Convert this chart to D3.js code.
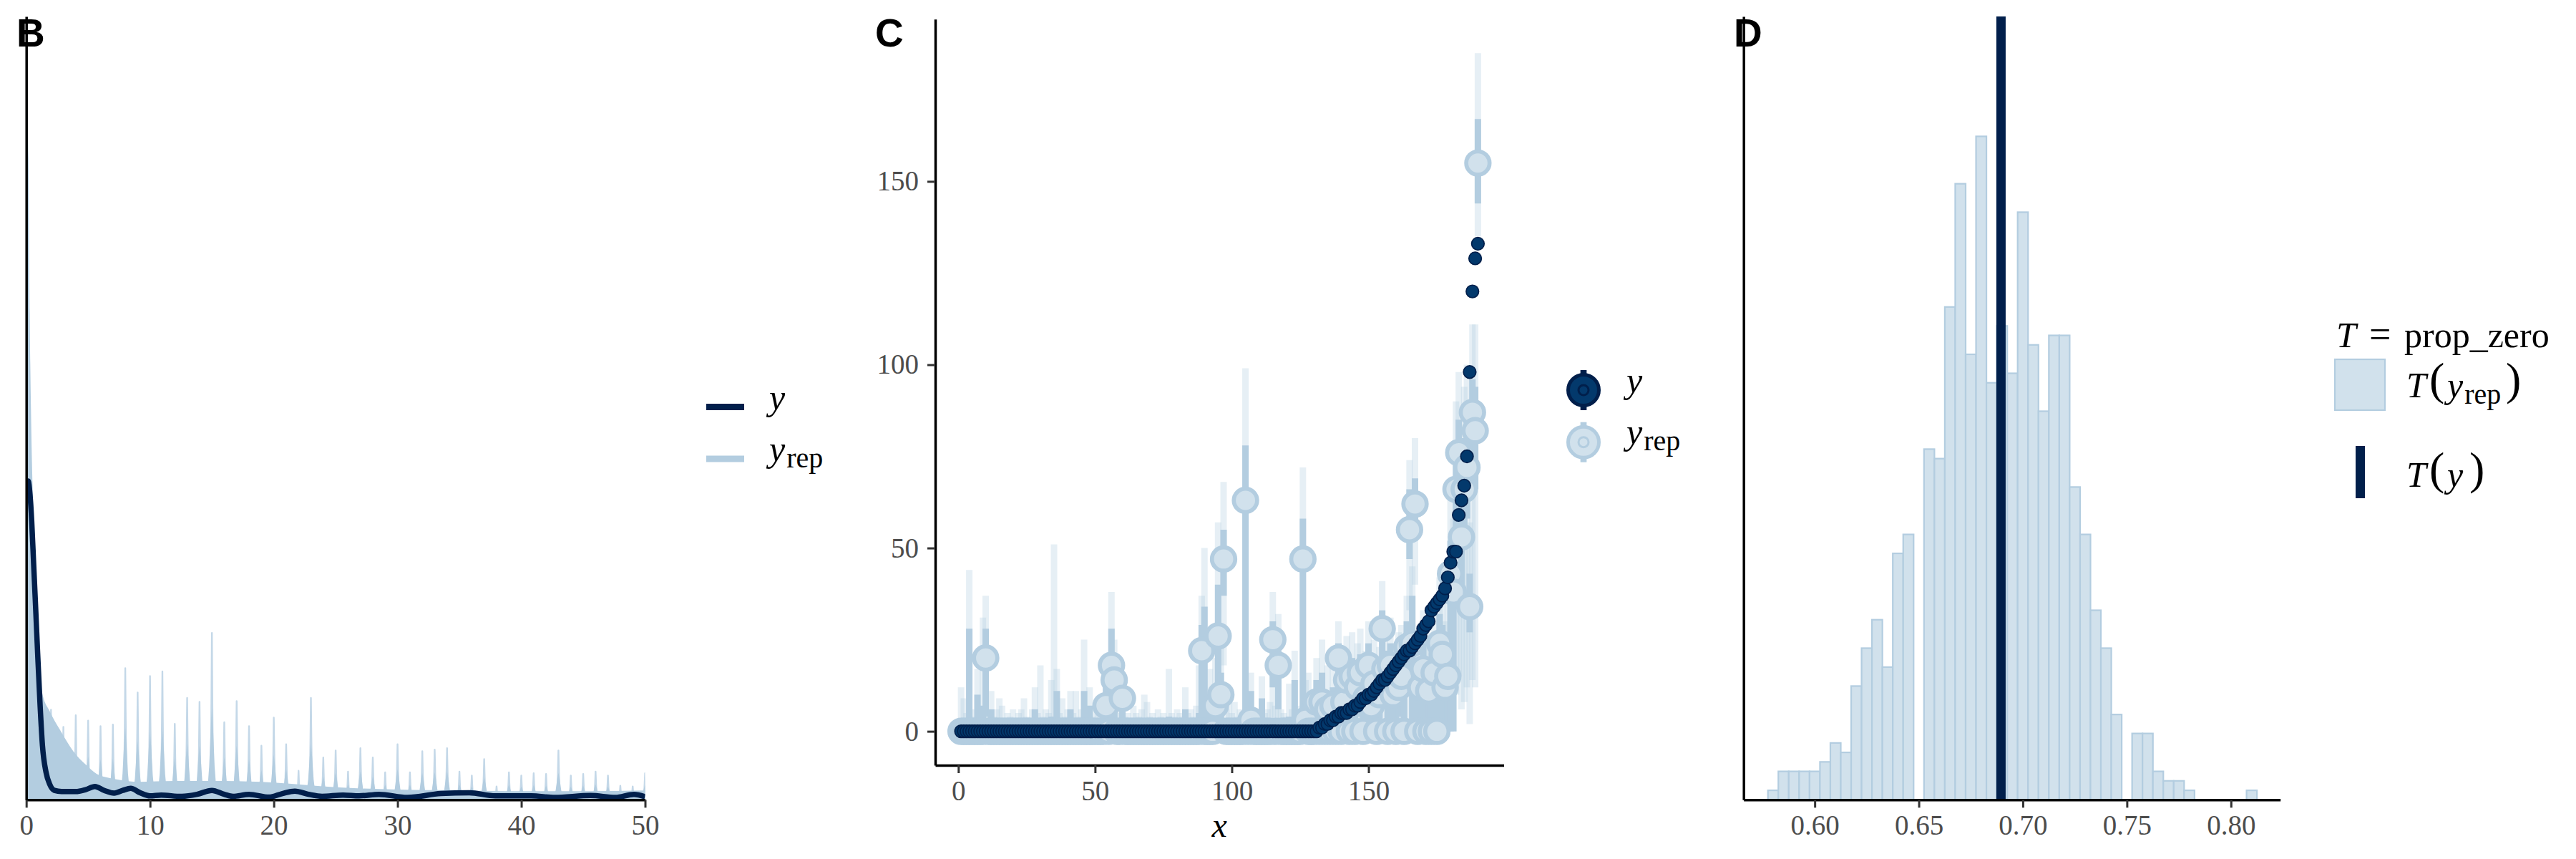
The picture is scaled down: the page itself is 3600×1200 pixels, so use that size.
<!DOCTYPE html>
<html>
<head>
<meta charset="utf-8">
<script src="https://cdn.jsdelivr.net/npm/d3@7"></script>
<style>
  body { margin: 0; background: #fff; }
</style>
</head>
<body>
<script>
// bayesplot "blue" colour scheme
const light = "#d1e1ec", lightHi = "#b3cde0", dark = "#03396c", darkHi = "#011f4b";
const serif = '"Liberation Serif", "Times New Roman", serif';
const sans = '"Liberation Sans", Arial, sans-serif';

// ---------- panel B : density overlay (arbitrary density units, top of panel = 1) ----------
const densTicks = [0, 10, 20, 30, 40, 50];
const densYx = [0, 0.15, 0.3, 0.44, 0.6, 0.73, 0.92, 1.12, 1.31, 1.6, 1.89, 2.27, 2.85, 4, 4.8, 5.55, 6.3, 7.1, 7.8, 8.44, 9.2, 10, 10.9, 12.5, 13.8, 15, 16, 16.7, 18, 19.6, 20.7, 21.7, 22.8, 23.9, 25.6, 26.9, 28.5, 30.8, 33.5, 35.8, 37.9, 40.8, 42.7, 45.6, 47.6, 49.1, 50];
const densYv = [0.400, 0.407, 0.39, 0.356, 0.30, 0.255, 0.187, 0.12, 0.069, 0.035, 0.02, 0.012, 0.0105, 0.0105, 0.013, 0.017, 0.012, 0.0085, 0.012, 0.0146, 0.009, 0.005, 0.006, 0.0044, 0.007, 0.012, 0.007, 0.0044, 0.007, 0.0034, 0.008, 0.011, 0.007, 0.0044, 0.006, 0.005, 0.007, 0.003, 0.008, 0.009, 0.005, 0.005, 0.003, 0.0055, 0.003, 0.007, 0.004];
// lower envelope of the replicated densities
const repFloorX = [0, 0.08, 0.18, 0.28, 0.38, 0.55, 0.75, 1.0, 1.3, 1.9, 2.85, 3.8, 4.8, 5.7, 6.7, 7.7, 9, 12, 16, 20, 25, 30, 35, 40, 45, 50];
const repFloorV = [0.96, 0.93, 0.82, 0.62, 0.5, 0.38, 0.28, 0.19, 0.136, 0.113, 0.086, 0.062, 0.045, 0.033, 0.028, 0.025, 0.023, 0.024, 0.024, 0.022, 0.016, 0.013, 0.012, 0.011, 0.011, 0.012];
// peaks of the replicated densities at each integer count
const repSpikeX = [1, 2, 3, 4, 5, 6, 7, 8, 9, 10, 11, 12, 13, 14, 15, 16, 17, 18, 19, 20, 21, 22, 23, 24, 25, 26, 27, 28, 29, 30, 31, 32, 33, 34, 35, 36, 37, 38, 39, 40, 41, 42, 43, 44, 45, 46, 47, 48, 49, 50];
const repSpikeH = [0.14, 0.115, 0.093, 0.108, 0.101, 0.094, 0.096, 0.168, 0.137, 0.158, 0.164, 0.097, 0.130, 0.125, 0.213, 0.099, 0.126, 0.094, 0.069, 0.105, 0.071, 0.037, 0.130, 0.054, 0.063, 0.036, 0.066, 0.054, 0.035, 0.071, 0.035, 0.062, 0.064, 0.066, 0.036, 0.031, 0.052, 0.017, 0.035, 0.031, 0.034, 0.033, 0.063, 0.031, 0.033, 0.036, 0.031, 0.018, 0.017, 0.034];

// ---------- panel C : intervals, observations sorted by y ----------
const intTicksX = [0, 50, 100, 150];
const intTicksY = [0, 50, 100, 150];
const yObs = [
  0, 0, 0, 0, 0, 0, 0, 0, 0, 0,
  0, 0, 0, 0, 0, 0, 0, 0, 0, 0,
  0, 0, 0, 0, 0, 0, 0, 0, 0, 0,
  0, 0, 0, 0, 0, 0, 0, 0, 0, 0,
  0, 0, 0, 0, 0, 0, 0, 0, 0, 0,
  0, 0, 0, 0, 0, 0, 0, 0, 0, 0,
  0, 0, 0, 0, 0, 0, 0, 0, 0, 0,
  0, 0, 0, 0, 0, 0, 0, 0, 0, 0,
  0, 0, 0, 0, 0, 0, 0, 0, 0, 0,
  0, 0, 0, 0, 0, 0, 0, 0, 0, 0,
  0, 0, 0, 0, 0, 0, 0, 0, 0, 0,
  0, 0, 0, 0, 0, 0, 0, 0, 0, 0,
  0, 0, 0, 0, 0, 0, 0, 0, 0, 0,
  0, 1, 1, 2, 2, 3, 3, 4, 4, 5,
  5, 5, 6, 6, 7, 7, 8, 9, 9, 10,
  10, 11, 12, 13, 14, 14, 15, 16, 17, 18,
  19, 20, 21, 22, 22, 23, 24, 25, 26, 28,
  29, 30, 33, 34, 35, 36, 37, 39, 42, 46,
  49, 49, 59, 63, 67, 75, 98, 120, 129, 133
];
const repMed = [
  0, 0, 0, 0, 0, 0, 0, 0, 0, 20,
  0, 0, 0, 0, 0, 0, 0, 0, 0, 0,
  0, 0, 0, 0, 0, 0, 0, 0, 0, 0,
  0, 0, 0, 0, 0, 0, 0, 0, 0, 0,
  0, 0, 0, 0, 0, 0, 0, 0, 0, 0,
  0, 0, 0, 7, 0, 18, 14, 0, 0, 9,
  0, 0, 0, 0, 0, 0, 0, 0, 0, 0,
  0, 0, 0, 0, 0, 0, 0, 0, 0, 0,
  0, 0, 0, 0, 0, 0, 0, 0, 22, 0,
  0, 0, 0, 7, 26, 10, 47, 0, 0, 0,
  0, 0, 0, 0, 63, 0, 3, 0, 0, 0,
  0, 0, 0, 0, 25, 0, 18, 0, 0, 0,
  0, 0, 0, 0, 0, 47, 3, 0, 0, 0,
  8, 0, 8, 0, 6, 0, 7, 0, 20, 0,
  8, 14, 0, 15, 0, 12, 16, 0, 9, 18,
  7, 13, 0, 10, 28, 17, 0, 18, 10, 0,
  12, 15, 0, 23, 55, 24, 62, 0, 12, 17,
  0, 11, 0, 16, 0, 24, 21, 12, 15, 43,
  38, 66, 76, 53, 66, 72, 34, 87, 82, 155
];
const repLo50 = [
  0, 0, 0, 0, 0, 0, 0, 0, 0, 4,
  0, 0, 0, 0, 0, 0, 0, 0, 0, 0,
  0, 0, 0, 0, 0, 0, 0, 0, 0, 0,
  0, 0, 0, 0, 0, 0, 0, 0, 0, 0,
  0, 0, 0, 0, 0, 0, 0, 0, 0, 0,
  0, 0, 0, 1, 0, 5, 3, 0, 0, 2,
  0, 0, 0, 0, 0, 0, 0, 0, 0, 0,
  0, 0, 0, 0, 0, 0, 0, 0, 0, 0,
  0, 0, 0, 0, 0, 0, 0, 0, 0, 0,
  0, 0, 0, 0, 9, 3, 37, 0, 0, 0,
  0, 0, 0, 0, 0, 0, 0, 0, 0, 0,
  0, 0, 0, 0, 12, 0, 6, 0, 0, 0,
  0, 0, 0, 0, 0, 0, 0, 0, 0, 0,
  2, 0, 2, 0, 1, 0, 2, 0, 9, 0,
  2, 5, 0, 6, 0, 4, 7, 0, 3, 8,
  2, 5, 0, 3, 17, 8, 0, 9, 3, 0,
  4, 6, 0, 12, 47, 0, 52, 0, 0, 0,
  0, 0, 0, 0, 0, 0, 0, 0, 0, 0,
  0, 52, 60, 40, 53, 58, 27, 70, 66, 144
];
const repHi50 = [
  3, 0, 0, 28, 0, 0, 10, 0, 7, 28,
  0, 6, 0, 0, 2, 0, 0, 0, 0, 0,
  0, 0, 0, 2, 0, 0, 0, 6, 0, 3,
  0, 0, 0, 4, 4, 11, 0, 2, 0, 0,
  6, 0, 3, 0, 0, 11, 0, 7, 0, 0,
  0, 0, 2, 12, 0, 28, 20, 0, 2, 12,
  0, 0, 0, 2, 0, 0, 0, 3, 2, 0,
  0, 0, 0, 0, 0, 0, 4, 0, 0, 0,
  0, 0, 6, 0, 0, 0, 2, 5, 29, 34,
  0, 4, 2, 12, 40, 16, 55, 0, 3, 0,
  2, 0, 0, 0, 78, 0, 11, 0, 0, 0,
  9, 0, 0, 2, 30, 0, 22, 0, 0, 0,
  4, 0, 14, 0, 0, 58, 8, 10, 3, 0,
  14, 4, 16, 3, 10, 4, 12, 5, 24, 6,
  13, 18, 6, 20, 8, 17, 21, 7, 14, 24,
  12, 18, 9, 15, 33, 22, 8, 24, 16, 9,
  18, 21, 10, 30, 66, 37, 69, 12, 19, 24,
  11, 18, 13, 24, 12, 32, 29, 20, 24, 52,
  47, 78, 85, 64, 80, 86, 43, 96, 94, 167
];
const repLo90 = [
  0, 0, 0, 0, 0, 0, 0, 0, 0, 0,
  0, 0, 0, 0, 0, 0, 0, 0, 0, 0,
  0, 0, 0, 0, 0, 0, 0, 0, 0, 0,
  0, 0, 0, 0, 0, 0, 0, 0, 0, 0,
  0, 0, 0, 0, 0, 0, 0, 0, 0, 0,
  0, 0, 0, 0, 0, 0, 0, 0, 0, 0,
  0, 0, 0, 0, 0, 0, 0, 0, 0, 0,
  0, 0, 0, 0, 0, 0, 0, 0, 0, 0,
  0, 0, 0, 0, 0, 0, 0, 0, 0, 0,
  0, 0, 0, 0, 0, 0, 18, 0, 0, 0,
  0, 0, 0, 0, 0, 0, 0, 0, 0, 0,
  0, 0, 0, 0, 0, 0, 0, 0, 0, 0,
  0, 0, 0, 0, 0, 0, 0, 0, 0, 0,
  0, 0, 0, 0, 0, 0, 0, 0, 2, 0,
  0, 0, 0, 1, 0, 0, 1, 0, 0, 2,
  0, 0, 0, 0, 7, 1, 0, 2, 0, 0,
  0, 1, 0, 3, 33, 0, 40, 0, 0, 0,
  0, 0, 0, 0, 0, 0, 0, 0, 0, 0,
  0, 10, 15, 6, 8, 12, 2, 14, 12, 135
];
const repHi90 = [
  12, 9, 5, 44, 4, 6, 17, 3, 31, 37,
  5, 11, 4, 6, 9, 7, 3, 5, 4, 6,
  3, 5, 6, 9, 4, 3, 6, 12, 5, 18,
  4, 6, 5, 14, 51, 17, 5, 9, 4, 6,
  11, 5, 11, 4, 6, 25, 5, 12, 4, 6,
  5, 3, 8, 16, 6, 38, 25, 5, 6, 16,
  4, 5, 3, 7, 5, 4, 6, 10, 8, 4,
  5, 3, 6, 4, 5, 3, 17, 5, 4, 6,
  5, 4, 12, 5, 6, 4, 7, 18, 37, 50,
  6, 17, 8, 20, 57, 25, 68, 6, 10, 5,
  8, 4, 6, 5, 99, 6, 16, 5, 4, 6,
  15, 5, 6, 8, 38, 7, 32, 6, 5, 4,
  13, 6, 22, 5, 7, 72, 14, 16, 9, 6,
  20, 10, 25, 8, 18, 9, 20, 12, 30, 14,
  21, 26, 13, 27, 16, 24, 28, 15, 22, 30,
  19, 25, 17, 23, 41, 29, 18, 31, 24, 19,
  27, 29, 21, 37, 74, 45, 80, 24, 28, 33,
  23, 27, 25, 34, 26, 42, 38, 30, 35, 64,
  58, 90, 98, 76, 94, 100, 57, 111, 111, 185
];

// ---------- panel D : histogram of prop_zero over replications ----------
const statTicks = [0.60, 0.65, 0.70, 0.75, 0.80];
const binMid = [0.580, 0.585, 0.590, 0.595, 0.600, 0.605, 0.610, 0.615, 0.620, 0.625, 0.630, 0.635, 0.640, 0.645, 0.650, 0.655, 0.660, 0.665, 0.670, 0.675, 0.680, 0.685, 0.690, 0.695, 0.700, 0.705, 0.710, 0.715, 0.720, 0.725, 0.730, 0.735, 0.740, 0.745, 0.750, 0.755, 0.760, 0.765, 0.770, 0.775, 0.780, 0.785, 0.790, 0.795, 0.800, 0.805, 0.810];
const binCount = [1, 3, 3, 3, 3, 4, 6, 5, 12, 16, 19, 14, 26, 28, 0, 37, 36, 52, 65, 47, 70, 44, 50, 45, 62, 48, 41, 49, 49, 33, 28, 20, 16, 9, 0, 7, 7, 3, 2, 2, 1, 0, 0, 0, 0, 0, 1];
const binWidth = 0.005;
const statObs = 0.6895;

// ---------------------------------------------------------------------------
const svg = d3.select("body").append("svg")
  .attr("width", 3600)
  .attr("height", 1200);

function styleAxis(g) {
  g.select(".domain").attr("stroke", "#000").attr("stroke-width", 3.5);
  g.selectAll(".tick line").attr("stroke", "#333").attr("stroke-width", 3);
  g.selectAll(".tick text")
    .attr("fill", "#4d4d4d")
    .attr("font-size", 39)
    .attr("font-family", serif);
}

function panelLabel(txt, x) {
  svg.append("text")
    .attr("x", x).attr("y", 65)
    .attr("font-family", sans)
    .attr("font-weight", "bold")
    .attr("font-size", 55)
    .text(txt);
}

// math-ish label: italic base letter with optional roman subscript
function mathLabel(g, x, y, base, sub) {
  const t = g.append("text")
    .attr("x", x).attr("y", y)
    .attr("font-family", serif)
    .attr("font-size", 50);
  t.append("tspan").attr("font-style", "italic").text(base);
  if (sub) t.append("tspan").attr("font-size", 40).attr("dx", 2).attr("dy", 9).text(sub);
  return t;
}

function pad([a, b]) {
  const d = (b - a) * 0.05;
  return [a - d, b + d];
}

// ============================== B ==============================
const xB = d3.scaleLinear().domain([0, 50]).range([36.7, 901.5]);
const yB = d3.scaleLinear().domain([0, 1]).range([1117.3, 23]);

const gB = svg.append("g");
svg.append("clipPath").attr("id", "clipB")
  .append("rect")
  .attr("x", xB(0)).attr("y", yB(1))
  .attr("width", xB(50) - xB(0)).attr("height", yB(0) - yB(1));

const plotB = gB.append("g").attr("clip-path", "url(#clipB)");

// each peak: a thin pale tip over a wider, denser base (many overlaid curves)
const tipDx = [-0.3, -0.14, -0.07, -0.035, 0, 0.035, 0.07, 0.14, 0.3];
const tipFrac = [0, 0.12, 0.3, 0.62, 1, 0.62, 0.3, 0.12, 0];
const coreDx = [-0.42, -0.22, -0.1, 0, 0.1, 0.22, 0.42];
const coreFrac = [0, 0.2, 0.42, 0.55, 0.42, 0.2, 0];
const spikeLine = d3.line().x(p => xB(p[0])).y(p => yB(p[1]));
const spikes = repSpikeX.map((k, i) => ({ k: k, h: repSpikeH[i] }));

plotB.selectAll(".tip")
  .data(spikes)
  .join("path")
  .attr("class", "tip")
  .attr("d", d => spikeLine(tipDx.map((dx, j) => [d.k + dx, d.h * tipFrac[j]])) + "Z")
  .attr("fill", "#c4d8e8")
  .attr("stroke", "#c4d8e8")
  .attr("stroke-width", 2.4)
  .attr("stroke-linejoin", "round");

plotB.selectAll(".core")
  .data(spikes)
  .join("path")
  .attr("class", "core")
  .attr("d", d => spikeLine(coreDx.map((dx, j) => [d.k + dx, d.h * coreFrac[j]])) + "Z")
  .attr("fill", lightHi);

const floorArea = d3.area()
  .x((d, i) => xB(repFloorX[i]))
  .y0(yB(0))
  .y1(d => yB(d))
  .curve(d3.curveMonotoneX);

plotB.append("path")
  .attr("d", floorArea(repFloorV))
  .attr("fill", lightHi);

const densLine = d3.line()
  .x((d, i) => xB(densYx[i]))
  .y(d => yB(d))
  .curve(d3.curveMonotoneX);

plotB.append("path")
  .attr("d", densLine(densYv))
  .attr("fill", "none")
  .attr("stroke", darkHi)
  .attr("stroke-width", 7.5)
  .attr("stroke-linejoin", "round");

gB.append("g")
  .attr("transform", `translate(0,${yB(0)})`)
  .call(d3.axisBottom(xB).tickValues(densTicks).tickSize(11).tickSizeOuter(0).tickPadding(10))
  .call(styleAxis);

gB.append("g")
  .attr("transform", `translate(${xB(0)},0)`)
  .call(d3.axisLeft(yB).tickValues([]).tickSizeOuter(0))
  .call(styleAxis);

// legend B
const legB = svg.append("g");
legB.append("line").attr("x1", 987).attr("x2", 1040).attr("y1", 568.5).attr("y2", 568.5)
  .attr("stroke", darkHi).attr("stroke-width", 9);
legB.append("line").attr("x1", 987).attr("x2", 1040).attr("y1", 641).attr("y2", 641)
  .attr("stroke", lightHi).attr("stroke-width", 9);
mathLabel(legB, 1075, 572, "y");
mathLabel(legB, 1075, 644, "y", "rep");

panelLabel("B", 23);

// ============================== C ==============================
const idx = yObs.map((d, i) => i + 1);
const xC = d3.scaleLinear().domain(pad([1, idx.length])).range([1307, 2101.5]);
const yC = d3.scaleLinear().domain(pad([0, d3.max(repHi90)])).range([1069, 26.8]);

const gC = svg.append("g");

// outer (90%) intervals
gC.selectAll(".outer")
  .data(idx)
  .join("line")
  .attr("class", "outer")
  .attr("x1", d => xC(d)).attr("x2", d => xC(d))
  .attr("y1", (d, i) => yC(repLo90[i]))
  .attr("y2", (d, i) => yC(repHi90[i]))
  .attr("stroke", lightHi)
  .attr("stroke-opacity", 0.33)
  .attr("stroke-width", 9);

// inner (50%) intervals
gC.selectAll(".inner")
  .data(idx)
  .join("line")
  .attr("class", "inner")
  .attr("x1", d => xC(d)).attr("x2", d => xC(d))
  .attr("y1", (d, i) => yC(repLo50[i]))
  .attr("y2", (d, i) => yC(repHi50[i]))
  .attr("stroke", lightHi)
  .attr("stroke-width", 9);

// medians of y_rep
gC.selectAll(".med")
  .data(idx)
  .join("circle")
  .attr("class", "med")
  .attr("cx", d => xC(d))
  .attr("cy", (d, i) => yC(repMed[i]))
  .attr("r", 16.3)
  .attr("fill", light)
  .attr("stroke", lightHi)
  .attr("stroke-width", 5.7);

// observed y
gC.selectAll(".obs")
  .data(idx)
  .join("circle")
  .attr("class", "obs")
  .attr("cx", d => xC(d))
  .attr("cy", (d, i) => yC(yObs[i]))
  .attr("r", 8.8)
  .attr("fill", dark)
  .attr("stroke", darkHi)
  .attr("stroke-width", 1.7);

gC.append("g")
  .attr("transform", `translate(0,${yC.range()[0]})`)
  .call(d3.axisBottom(xC).tickValues(intTicksX).tickSize(11).tickSizeOuter(0).tickPadding(10))
  .call(styleAxis);

gC.append("g")
  .attr("transform", `translate(${xC.range()[0]},0)`)
  .call(d3.axisLeft(yC).tickValues(intTicksY).tickSize(11).tickSizeOuter(0).tickPadding(12))
  .call(styleAxis);

gC.append("text")
  .attr("x", (xC.range()[0] + xC.range()[1]) / 2)
  .attr("y", 1169)
  .attr("text-anchor", "middle")
  .attr("font-family", serif)
  .attr("font-style", "italic")
  .attr("font-size", 48)
  .text("x");

// legend C
const legC = svg.append("g");
[[545, dark, darkHi], [617.7, light, lightHi]].forEach(([cy, fill, stroke]) => {
  legC.append("line")
    .attr("x1", 2213).attr("x2", 2213).attr("y1", cy - 28).attr("y2", cy + 28)
    .attr("stroke", stroke).attr("stroke-width", 8.7);
  legC.append("circle").attr("cx", 2213).attr("cy", cy).attr("r", 21.5)
    .attr("fill", fill).attr("stroke", stroke).attr("stroke-width", 5);
  legC.append("circle").attr("cx", 2213).attr("cy", cy).attr("r", 7)
    .attr("fill", fill).attr("stroke", stroke).attr("stroke-width", 3);
});
mathLabel(legC, 2273, 548, "y");
mathLabel(legC, 2273, 620, "y", "rep");

panelLabel("C", 1223);

// ============================== D ==============================
const xD = d3.scaleLinear().domain([0.5658, 0.8237]).range([2436.7, 3186.7]);
const yD = d3.scaleLinear().domain([0, 82.65]).range([1117.3, 23]);

const gD = svg.append("g");

gD.selectAll(".bin")
  .data(binMid.filter((d, i) => binCount[i] > 0))
  .join("rect")
  .attr("class", "bin")
  .attr("x", d => xD(d - binWidth / 2))
  .attr("width", d => xD(d + binWidth / 2) - xD(d - binWidth / 2))
  .attr("y", d => yD(binCount[binMid.indexOf(d)]))
  .attr("height", d => yD(0) - yD(binCount[binMid.indexOf(d)]))
  .attr("fill", light)
  .attr("stroke", lightHi)
  .attr("stroke-width", 2.2);

gD.append("line")
  .attr("x1", xD(statObs)).attr("x2", xD(statObs))
  .attr("y1", yD.range()[1]).attr("y2", yD(0))
  .attr("stroke", darkHi)
  .attr("stroke-width", 13);

gD.append("g")
  .attr("transform", `translate(0,${yD(0)})`)
  .call(d3.axisBottom(xD).tickValues(statTicks).tickFormat(d3.format(".2f")).tickSize(11).tickSizeOuter(0).tickPadding(10))
  .call(styleAxis);

gD.append("g")
  .attr("transform", `translate(${xD.range()[0]},0)`)
  .call(d3.axisLeft(yD).tickValues([]).tickSizeOuter(0))
  .call(styleAxis);

// legend D
const legD = svg.append("g").attr("font-family", serif);
legD.append("text").attr("x", 3265).attr("y", 485).attr("font-size", 50).attr("font-style", "italic").text("T");
legD.append("text").attr("x", 3311).attr("y", 485).attr("font-size", 54).text("=");
legD.append("text").attr("x", 3360).attr("y", 485).attr("font-size", 50).text("prop_zero");

legD.append("rect")
  .attr("x", 3263).attr("y", 502).attr("width", 70).attr("height", 71)
  .attr("fill", light).attr("stroke", lightHi).attr("stroke-width", 2.2);
legD.append("rect")
  .attr("x", 3292).attr("y", 623).attr("width", 13).attr("height", 73)
  .attr("fill", darkHi);

function statLabel(y, sub, closeX) {
  legD.append("text").attr("x", 3363).attr("y", y).attr("font-size", 50).attr("font-style", "italic").text("T");
  legD.append("text").attr("x", 3395).attr("y", y - 4).attr("font-size", 64).text("(");
  const t = legD.append("text").attr("x", 3420).attr("y", y).attr("font-size", 50);
  t.append("tspan").attr("font-style", "italic").text("y");
  if (sub) t.append("tspan").attr("font-size", 40).attr("dx", 2).attr("dy", 9).text(sub);
  legD.append("text").attr("x", closeX).attr("y", y - 4).attr("font-size", 64).text(")");
}
statLabel(555, "rep", 3502);
statLabel(680, null, 3451);

panelLabel("D", 2423);
</script>
</body>
</html>
